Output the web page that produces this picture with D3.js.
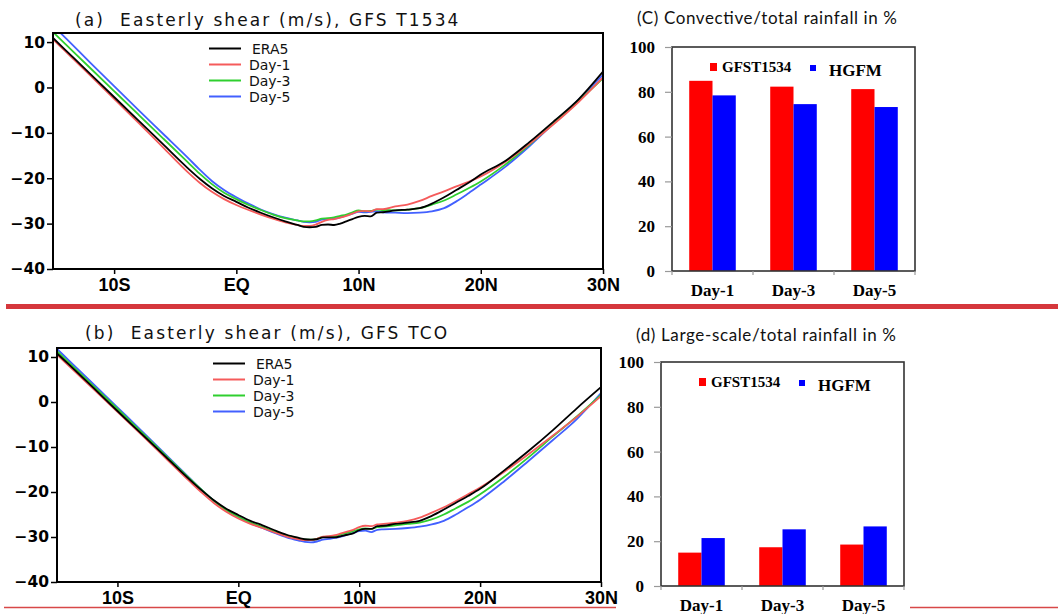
<!DOCTYPE html>
<html>
<head>
<meta charset="utf-8">
<script src="https://cdn.jsdelivr.net/npm/d3@7/dist/d3.min.js"></script>
<style>
    body { margin: 0; background: #fff; }
</style>
</head>
<body>
<svg id="chart" width="1058" height="614"></svg>
<script>
// Latitude grid (degrees, negative = south)
const lats = [-15, -14, -12, -10, -8, -6, -4, -3, -2, -1, 0, 1, 2, 3, 4, 5, 5.5, 6, 6.5, 7, 7.5, 8, 8.5, 9, 9.5, 10, 10.5, 11, 11.5, 12, 13, 14, 15, 16, 17, 18, 19, 20, 22, 24, 26, 28, 30];

// (a) GFS T1534 easterly shear (m/s)
const era5A = [10.9, 8.3, 3.1, -2.1, -7.3, -12.5, -17.7, -20.1, -22.2, -23.9, -25.2, -26.5, -27.6, -28.6, -29.5, -30.3, -30.7, -30.8, -30.7, -30.3, -30.2, -30.3, -30.0, -29.5, -29.0, -28.5, -28.3, -28.4, -27.6, -27.5, -27.1, -26.9, -26.6, -25.6, -24.2, -22.6, -21.0, -19.2, -16.2, -12.0, -7.4, -2.6, 3.5];
const day1A = [10.6, 8.0, 2.8, -2.5, -7.8, -13.2, -18.6, -21.0, -23.0, -24.6, -25.9, -27.0, -28.0, -28.9, -29.7, -30.3, -30.5, -30.5, -30.2, -29.6, -29.2, -29.0, -28.7, -28.3, -27.8, -27.3, -27.2, -27.3, -26.8, -26.8, -26.2, -25.8, -25.0, -23.9, -22.9, -21.8, -20.8, -19.6, -16.4, -12.4, -8.0, -3.2, 2.2];
const day3A = [12.2, 9.6, 4.4, -0.8, -6.0, -11.2, -16.4, -19.0, -21.3, -23.2, -24.6, -25.9, -27.0, -28.0, -28.8, -29.3, -29.5, -29.5, -29.3, -28.9, -28.8, -28.6, -28.3, -28.0, -27.5, -27.1, -27.3, -27.2, -26.9, -27.0, -27.1, -26.9, -26.6, -25.8, -24.9, -23.6, -22.2, -20.7, -17.0, -12.6, -7.8, -3.0, 2.0];
const day5A = [13.6, 11.0, 5.6, 0.3, -5.0, -10.2, -15.4, -18.1, -20.6, -22.6, -24.2, -25.6, -26.9, -27.9, -28.7, -29.3, -29.6, -29.7, -29.6, -29.1, -29.0, -28.9, -28.6, -28.2, -27.8, -27.4, -27.5, -27.4, -27.3, -27.5, -27.6, -27.7, -27.6, -27.3, -26.6, -25.1, -23.3, -21.4, -17.5, -12.9, -7.8, -2.7, 2.8];

// (b) GFS TCO easterly shear (m/s)
const era5B = [10.8, 8.3, 3.2, -2.0, -7.1, -12.2, -17.3, -19.7, -21.9, -23.7, -25.1, -26.4, -27.4, -28.5, -29.5, -30.2, -30.5, -30.6, -30.5, -30.1, -30.1, -30.1, -29.8, -29.5, -29.2, -28.5, -28.2, -28.2, -27.6, -27.5, -27.1, -26.8, -26.4, -25.3, -23.9, -22.4, -20.9, -19.3, -15.2, -10.9, -6.3, -1.4, 3.3];
const day1B = [10.5, 8.0, 2.9, -2.2, -7.3, -12.5, -17.7, -20.2, -22.5, -24.4, -25.9, -27.1, -28.0, -29.0, -29.9, -30.5, -30.7, -30.7, -30.4, -29.9, -29.8, -29.6, -29.2, -28.8, -28.4, -27.8, -27.5, -27.6, -27.2, -27.1, -26.8, -26.4, -25.7, -24.6, -23.4, -22.0, -20.5, -19.0, -15.5, -11.6, -7.5, -3.3, 1.3];
const day3B = [11.3, 8.7, 3.6, -1.5, -6.7, -11.9, -17.1, -19.6, -22.0, -24.0, -25.5, -26.8, -27.8, -28.8, -29.7, -30.3, -30.6, -30.6, -30.4, -30.0, -29.9, -29.8, -29.4, -29.1, -28.7, -28.3, -28.1, -28.2, -27.8, -27.7, -27.4, -27.1, -26.8, -26.1, -25.0, -23.6, -22.2, -20.5, -16.6, -12.3, -7.7, -3.2, 1.6];
const day5B = [11.8, 9.2, 4.0, -1.2, -6.4, -11.7, -17.0, -19.6, -22.0, -24.0, -25.5, -26.9, -28.0, -29.1, -30.1, -30.8, -31.1, -31.2, -31.0, -30.6, -30.4, -30.2, -29.9, -29.5, -29.1, -28.7, -28.6, -28.9, -28.4, -28.3, -28.2, -28.0, -27.7, -27.2, -26.4, -25.0, -23.4, -21.7, -17.6, -13.1, -8.5, -3.8, 2.0];

const seriesNames = ['ERA5', 'Day-1', 'Day-3', 'Day-5'];
const latTicks = [-10, 0, 10, 20, 30];
const latTickLabels = ['10S', 'EQ', '10N', '20N', '30N'];
const shearTicks = [10, 0, -10, -20, -30, -40];

// Rainfall fractions (%)
const days = ['Day-1', 'Day-3', 'Day-5'];
const models = ['GFST1534', 'HGFM'];
const convGFS = [84.9, 82.3, 81.2];
const convHGFM = [78.4, 74.5, 73.2];
const largeGFS = [14.9, 17.3, 18.5];
const largeHGFM = [21.4, 25.3, 26.6];
const pctTicks = [0, 20, 40, 60, 80, 100];

const lineColors = ['#000000', '#f55b5b', '#2fcf2f', '#4260ff'];
const barColors = ['#ff0000', '#0000ff'];

const svg = d3.select('#chart');

// Garis pemisah merah
svg.append('rect').attr('x', 6).attr('y', 304).attr('width', 1052).attr('height', 5).attr('fill', '#d5373c');
svg.append('line').attr('x1', 4).attr('x2', 616).attr('y1', 607.5).attr('y2', 607.5)
    .attr('stroke', '#d84848').attr('stroke-width', 1.5);
svg.append('line').attr('x1', 910).attr('x2', 1058).attr('y1', 607.5).attr('y2', 607.5)
    .attr('stroke', '#d84848').attr('stroke-width', 1.5);

function drawLinePanel(box, data, title, titleX, titleY, id) {
    const x = d3.scaleLinear().domain([-15, 30]).range([box.left, box.right]);
    const y = d3.scaleLinear().domain([-40, 12]).range([box.bottom, box.top]);

    svg.append('clipPath').attr('id', id)
        .append('rect')
        .attr('x', box.left).attr('y', box.top)
        .attr('width', box.right - box.left).attr('height', box.bottom - box.top);

    const line = d3.line()
        .x((d, i) => x(lats[i]))
        .y(d => y(d))
        .curve(d3.curveMonotoneX);

    const g = svg.append('g').attr('clip-path', `url(#${id})`);
    // Day-5 first so ERA5 ends up on top
    [3, 2, 1, 0].forEach(k => {
        g.append('path')
            .attr('d', line(data[k]))
            .attr('fill', 'none')
            .attr('stroke', lineColors[k])
            .attr('stroke-width', 1.8);
    });

    // frame
    svg.append('rect')
        .attr('x', box.left).attr('y', box.top)
        .attr('width', box.right - box.left).attr('height', box.bottom - box.top)
        .attr('fill', 'none').attr('stroke', '#000').attr('stroke-width', 2);

    const yAxis = svg.append('g')
        .attr('transform', `translate(${box.left},0)`)
        .call(d3.axisLeft(y).tickValues(shearTicks).tickSize(6).tickSizeOuter(0).tickPadding(2));
    const xAxis = svg.append('g')
        .attr('transform', `translate(0,${box.bottom})`)
        .call(d3.axisBottom(x).tickValues(latTicks).tickSize(5).tickSizeOuter(0).tickPadding(4)
            .tickFormat((d, i) => latTickLabels[i]));

    [yAxis, xAxis].forEach(a => {
        a.select('.domain').remove();
        a.selectAll('line').attr('stroke', '#000').attr('stroke-width', 1.5);
        a.selectAll('text').attr('fill', '#000').style('font-weight', 'bold');
    });
    yAxis.selectAll('text')
        .style('font-family', '"DejaVu Sans", sans-serif')
        .style('font-size', '15.5px');
    xAxis.selectAll('text')
        .style('font-family', '"Liberation Sans Narrow", "Liberation Sans", sans-serif')
        .style('font-size', '18px');

    svg.append('text')
        .attr('x', titleX).attr('y', titleY)
        .attr('textLength', title.length * 10.65)
        .style('font-family', '"DejaVu Sans", sans-serif')
        .style('font-size', '17px')
        .attr('fill', '#111')
        .attr('xml:space', 'preserve')
        .text(title);

    // legend
    const legend = svg.append('g').attr('transform', `translate(${box.left + 156},${box.top + 15.5})`);
    seriesNames.forEach((name, i) => {
        legend.append('line')
            .attr('x1', 0).attr('x2', 32)
            .attr('y1', i * 16).attr('y2', i * 16)
            .attr('stroke', lineColors[i]).attr('stroke-width', 2);
        legend.append('text')
            .attr('x', i === 0 ? 43 : 40).attr('y', i * 16 + 5)
            .style('font-family', '"DejaVu Sans", sans-serif')
            .style('font-size', '14px')
            .attr('fill', '#111')
            .text(name);
    });
}

function drawBarPanel(box, valuesA, valuesB, title, titleX, titleY) {
    const x = d3.scaleBand().domain(days).range([box.left, box.right]).padding(0);
    const xs = d3.scaleBand().domain(models).range([0, x.bandwidth()]).paddingInner(0).paddingOuter(0.74);
    const y = d3.scaleLinear().domain([0, 100]).range([box.bottom, box.top]);

    const groups = svg.selectAll(null)
        .data(days)
        .enter().append('g')
        .attr('transform', d => `translate(${x(d)},0)`);

    groups.append('rect')
        .attr('x', xs(models[0]))
        .attr('y', (d, i) => y(valuesA[i]))
        .attr('width', xs.bandwidth())
        .attr('height', (d, i) => y(0) - y(valuesA[i]))
        .attr('fill', barColors[0]);
    groups.append('rect')
        .attr('x', xs(models[1]))
        .attr('y', (d, i) => y(valuesB[i]))
        .attr('width', xs.bandwidth())
        .attr('height', (d, i) => y(0) - y(valuesB[i]))
        .attr('fill', barColors[1]);

    // frame
    svg.append('rect')
        .attr('x', box.left).attr('y', box.top)
        .attr('width', box.right - box.left).attr('height', box.bottom - box.top)
        .attr('fill', 'none').attr('stroke', '#333').attr('stroke-width', 1.6);

    // y ticks
    const yAxis = svg.append('g')
        .attr('transform', `translate(${box.left},0)`)
        .call(d3.axisLeft(y).tickValues(pctTicks).tickSize(7).tickSizeOuter(0).tickPadding(10));
    yAxis.select('.domain').remove();
    yAxis.selectAll('line').attr('stroke', '#999').attr('stroke-width', 1.2);
    yAxis.selectAll('text')
        .style('font-family', '"Liberation Serif", serif')
        .style('font-weight', 'bold')
        .style('font-size', '17px')
        .attr('fill', '#000');

    // x ticks at the category boundaries
    const bounds = days.map(d => x(d)).concat([box.right]);
    svg.selectAll(null)
        .data(bounds)
        .enter().append('line')
        .attr('x1', d => d).attr('x2', d => d)
        .attr('y1', box.bottom).attr('y2', box.bottom + 4)
        .attr('stroke', '#999').attr('stroke-width', 1.2);

    svg.selectAll(null)
        .data(days)
        .enter().append('text')
        .attr('x', d => x(d) + x.bandwidth() / 2)
        .attr('y', box.bottom + 24.5)
        .attr('text-anchor', 'middle')
        .style('font-family', '"Liberation Serif", serif')
        .style('font-weight', 'bold')
        .style('font-size', '17px')
        .text(d => d);

    // legend
    svg.append('rect').attr('x', box.left + 38).attr('y', box.top + 16).attr('width', 7).attr('height', 8).attr('fill', barColors[0]);
    svg.append('text').attr('x', box.left + 50).attr('y', box.top + 25)
        .style('font-family', '"Liberation Serif", serif').style('font-weight', 'bold').style('font-size', '15px')
        .text(models[0]);
    svg.append('rect').attr('x', box.left + 138).attr('y', box.top + 18).attr('width', 6).attr('height', 6).attr('fill', barColors[1]);
    svg.append('text').attr('x', box.left + 157).attr('y', box.top + 29)
        .style('font-family', '"Liberation Serif", serif').style('font-weight', 'bold').style('font-size', '17px')
        .text(models[1]);

    svg.append('text')
        .attr('x', titleX).attr('y', titleY)
        .attr('textLength', 260)
        .style('font-family', 'Lato, "Open Sans", sans-serif')
        .style('font-size', '17px')
        .attr('fill', '#111')
        .text(title);
}

drawLinePanel({ left: 53, top: 33, right: 603, bottom: 269 },
    [era5A, day1A, day3A, day5A], '(a)  Easterly shear (m/s), GFS T1534', 75, 26, 'clipA');
drawLinePanel({ left: 57, top: 348, right: 601, bottom: 582 },
    [era5B, day1B, day3B, day5B], '(b)  Easterly shear (m/s), GFS TCO', 85, 339, 'clipB');

drawBarPanel({ left: 672, top: 47, right: 915, bottom: 271 },
    convGFS, convHGFM, '(C) Convective/total rainfall in %', 637, 24);
drawBarPanel({ left: 661, top: 362, right: 904, bottom: 586 },
    largeGFS, largeHGFM, '(d) Large-scale/total rainfall in %', 636, 341);
</script>
</body>
</html>
